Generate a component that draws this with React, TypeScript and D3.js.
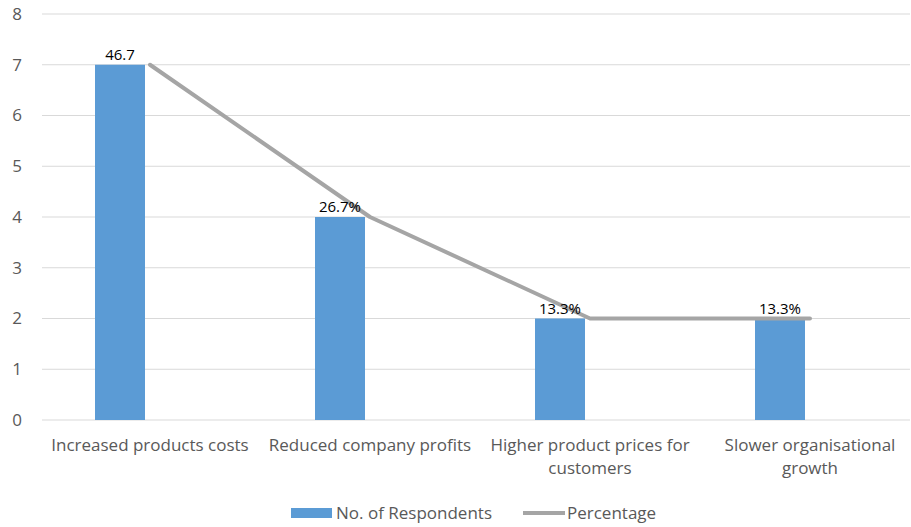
import React from "react";
import * as d3 from "d3";

const categories: string[][] = [
  ["Increased products costs"],
  ["Reduced company profits"],
  ["Higher product prices for", "customers"],
  ["Slower organisational", "growth"],
];
const respondents = [7, 4, 2, 2];
const percentLabels = ["46.7", "26.7%", "13.3%", "13.3%"];
const yTicks = [0, 1, 2, 3, 4, 5, 6, 7, 8];

const W = 911;
const H = 527;
const FONT = "'Open Sans', 'Liberation Sans', Arial, sans-serif";

export default function App() {
  const x = d3
    .scaleBand<number>()
    .domain(d3.range(categories.length))
    .range([40, 920])
    .padding(0);
  const y = d3.scaleLinear().domain([0, 8]).range([420, 14]);
  const center = (i: number) => (x(i) as number) + x.bandwidth() / 2;
  const barW = 50;
  const line = d3
    .line<number>()
    .x((_, i) => center(i))
    .y((d) => y(d));

  return (
    <svg
      width={W}
      height={H}
      style={{ position: "absolute", left: 0, top: 0, background: "#fff" }}
      fontFamily={FONT}
    >
      {yTicks.map((t) => (
        <g key={t}>
          <line x1={42} x2={910} y1={y(t)} y2={y(t)} stroke="#D9D9D9" strokeWidth={1} />
          <text x={22} y={y(t)} dy="0.35em" textAnchor="end" fontSize={17} fill="#595959">
            {t}
          </text>
        </g>
      ))}
      {respondents.map((v, i) => (
        <rect
          key={i}
          x={center(i) - 55}
          y={y(v)}
          width={barW}
          height={y(0) - y(v)}
          fill="#5B9BD5"
        />
      ))}
      <path
        d={line(respondents) || ""}
        fill="none"
        stroke="#A5A5A5"
        strokeWidth={4}
        strokeLinejoin="round"
        strokeLinecap="round"
      />
      {respondents.map((v, i) => (
        <text
          key={i}
          x={center(i) - 30}
          y={y(v) - 5}
          textAnchor="middle"
          fontSize={15}
          fill="#000"
        >
          {percentLabels[i]}
        </text>
      ))}
      {categories.map((lines, i) =>
        lines.map((l, j) => (
          <text
            key={i + "-" + j}
            x={center(i)}
            y={451 + j * 23}
            textAnchor="middle"
            fontSize={17}
            fill="#595959"
          >
            {l}
          </text>
        ))
      )}
      <g>
        <rect x={291} y={508} width={41} height={10} fill="#5B9BD5" />
        <text x={336} y={519} fontSize={17} fill="#595959">
          No. of Respondents
        </text>
        <line x1={523} x2={565} y1={513} y2={513} stroke="#A5A5A5" strokeWidth={4} />
        <text x={567} y={519} fontSize={17} fill="#595959">
          Percentage
        </text>
      </g>
    </svg>
  );
}
